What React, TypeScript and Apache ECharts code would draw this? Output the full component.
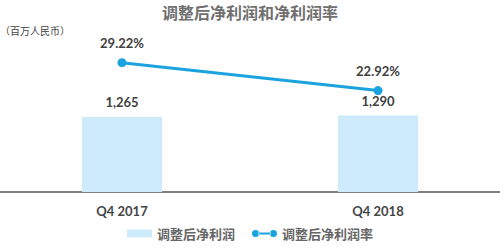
import React, { useEffect, useRef } from "react";
import * as echarts from "echarts";

const categories = ["Q4 2017", "Q4 2018"];
const profitValues = [1265, 1290];
const marginValues = [29.22, 22.92];
const barName = "调整后净利润";
const lineName = "调整后净利润率";
const titleText = "调整后净利润和净利润率";
const unitText = "（百万人民币）";

const LINE_ICON =
  "path://M0,4 A4,4 0 1,0 8,4 A4,4 0 1,0 0,4 Z M7,3 H21 V5 H7 Z M20,4 A4,4 0 1,0 28,4 A4,4 0 1,0 20,4 Z";

export default function App() {
  const ref = useRef<HTMLDivElement>(null);
  useEffect(() => {
    if (!ref.current) return;
    const chart = echarts.init(ref.current, undefined, { renderer: "svg" });
    const numFont = "Lato, 'Open Sans', sans-serif";
    const cjkFont = "'Noto Sans CJK SC', sans-serif";
    chart.setOption({
      animation: false,
      backgroundColor: "#ffffff",
      title: [
        {
          text: titleText,
          left: "center",
          top: 4,
          padding: 0,
          textStyle: { fontFamily: cjkFont, fontSize: 16, fontWeight: "bold", color: "#707070" },
        },
        {
          text: unitText,
          left: 0,
          top: 25,
          padding: 0,
          textStyle: { fontFamily: cjkFont, fontSize: 10, fontWeight: "normal", color: "#444" },
        },
      ],
      legend: {
        bottom: 3,
        left: "center",
        itemGap: 17,
        itemWidth: 25,
        itemHeight: 8,
        textStyle: { fontFamily: cjkFont, fontSize: 13, fontWeight: "bold", color: "#666" },
        data: [
          { name: barName, icon: "rect" },
          { name: lineName, icon: LINE_ICON },
        ],
      },
      grid: {
        left: -6,
        width: 512,
        top: 40,
        bottom: 56,
        containLabel: false,
        outerBoundsMode: "none",
      },
      xAxis: {
        type: "category",
        data: categories,
        axisLine: { show: true, lineStyle: { color: "#555", width: 1.5 } },
        axisTick: { show: false },
        axisLabel: {
          margin: 12,
          fontFamily: numFont,
          fontSize: 13,
          fontWeight: "bold",
          color: "#444",
        },
      },
      yAxis: [
        { type: "value", min: 0, max: 2563, show: false, splitLine: { show: false } },
        { type: "value", min: 0, max: 34.35, show: false, splitLine: { show: false } },
      ],
      series: [
        {
          name: barName,
          type: "bar",
          data: profitValues,
          barWidth: 80,
          itemStyle: { color: "#cdebfa" },
          label: {
            show: true,
            position: "top",
            distance: 8,
            fontFamily: numFont,
            fontSize: 13,
            fontWeight: "bold",
            color: "#404040",
            formatter: (p: any) => Number(p.value).toLocaleString("en-US"),
          },
        },
        {
          name: lineName,
          type: "line",
          yAxisIndex: 1,
          data: marginValues,
          symbol: "circle",
          symbolSize: 9,
          lineStyle: { color: "#1aa3df", width: 3 },
          itemStyle: { color: "#1aa3df" },
          label: {
            show: true,
            position: "top",
            distance: 9,
            fontFamily: numFont,
            fontSize: 13,
            fontWeight: "bold",
            color: "#404040",
            formatter: (p: any) => Number(p.value).toFixed(2) + "%",
          },
        },
      ],
    });
    return () => chart.dispose();
  }, []);
  return (
    <div
      ref={ref}
      style={{ position: "fixed", left: 0, top: 0, width: 500, height: 248 }}
    />
  );
}
